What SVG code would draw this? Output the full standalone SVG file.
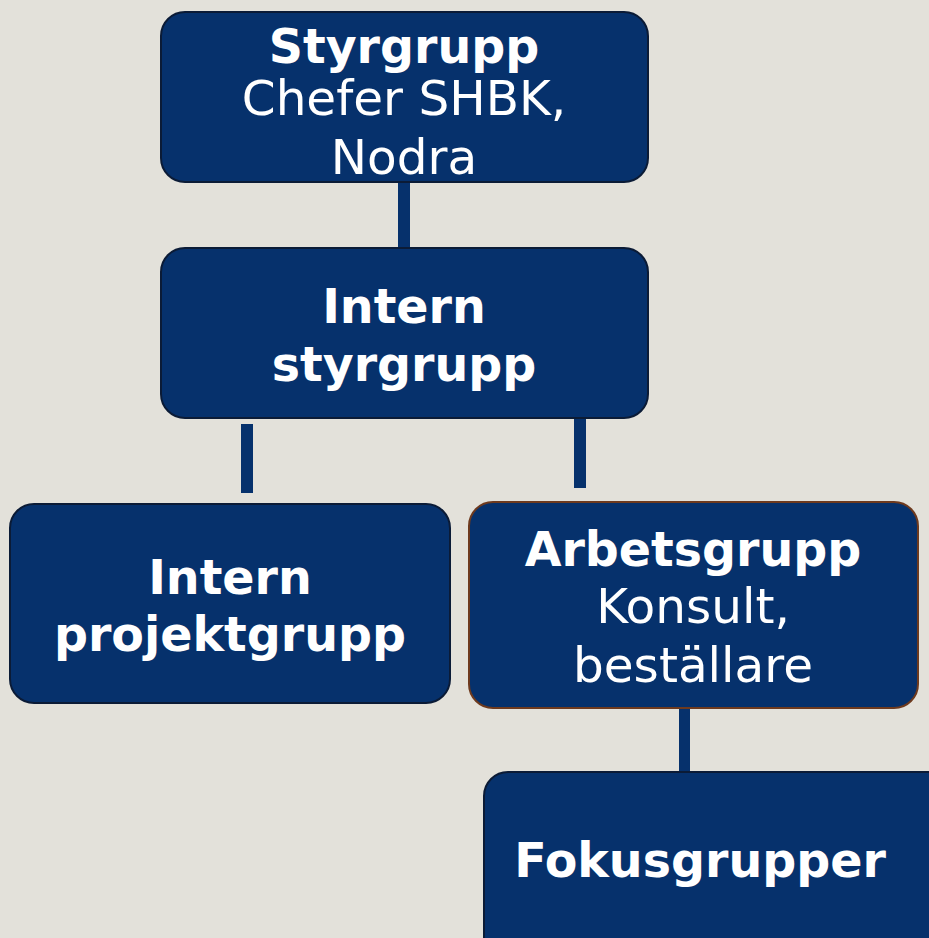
<svg xmlns="http://www.w3.org/2000/svg" width="929" height="938" viewBox="0 0 929 938">
<style>
.box{fill:#06316C;stroke:#0B1B36;stroke-width:2}
.box2{fill:#06316C;stroke:#6E3A1E;stroke-width:2}
.conn{fill:#06316C}
text{font-family:"DejaVu Sans",Verdana,sans-serif;fill:#ffffff;text-anchor:middle;font-size:48.5px}
.b{font-weight:bold;font-size:47.5px}
</style>
<rect width="929" height="938" fill="#E3E1DA"/>
<g id="connectors">
<rect class="conn" x="398" y="181" width="12" height="68"/>
<rect class="conn" x="241" y="424" width="12" height="69"/>
<rect class="conn" x="574" y="417" width="12" height="71"/>
<rect class="conn" x="679" y="707" width="11" height="66"/>
</g>
<g id="styrgrupp">
<rect class="box" x="161" y="12" width="487" height="170" rx="24"/>
<text class="b" x="404" y="63">Styrgrupp</text>
<text x="404" y="115">Chefer SHBK,</text>
<text x="404" y="174">Nodra</text>
</g>
<g id="intern-styrgrupp">
<rect class="box" x="161" y="248" width="487" height="170" rx="24"/>
<text class="b" x="404" y="323">Intern</text>
<text class="b" x="404" y="381">styrgrupp</text>
</g>
<g id="intern-projektgrupp">
<rect class="box" x="10" y="504" width="440" height="199" rx="24"/>
<text class="b" x="230" y="594">Intern</text>
<text class="b" x="230" y="651">projektgrupp</text>
</g>
<g id="arbetsgrupp">
<rect class="box2" x="469" y="502" width="449" height="206" rx="24"/>
<text class="b" x="693" y="566">Arbetsgrupp</text>
<text x="693" y="623">Konsult,</text>
<text x="693" y="682">beställare</text>
</g>
<g id="fokusgrupper">
<rect class="box" x="484" y="772" width="470" height="190" rx="24"/>
<text class="b" x="700" y="877">Fokusgrupper</text>
</g>
</svg>
